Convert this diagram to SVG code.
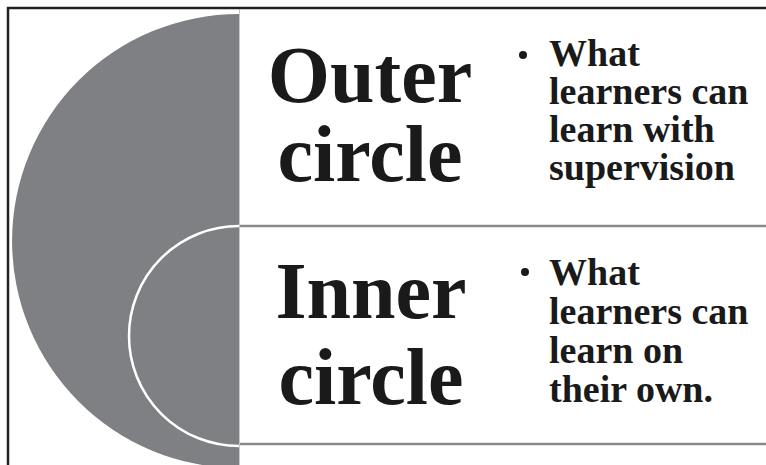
<svg xmlns="http://www.w3.org/2000/svg" width="766" height="465" viewBox="0 0 766 465">
<style>
.title{font-family:"Liberation Serif","Times New Roman",serif;font-weight:bold;font-size:80px;fill:#1a1a1a;text-anchor:middle}
.body{font-family:"Liberation Serif","Times New Roman",serif;font-weight:bold;font-size:38px;fill:#1a1a1a}
.sep{stroke:#8a8a8a;stroke-width:2.5;fill:none}
</style>
<rect width="766" height="465" fill="#ffffff"/>
<g id="shape-outer">
<path d="M239,14 A227,227 0 0 0 239,468 Z" fill="#7f8084"/>
</g>
<g id="shape-inner">
<path d="M239,226 A110,110 0 0 0 239,446" fill="none" stroke="#ffffff" stroke-width="2.5"/>
</g>
<g id="panel-outer">
<line class="sep" x1="239" y1="226" x2="766" y2="226"/>
<text class="title" x="370" y="102">Outer</text>
<text class="title" x="370" y="181">circle</text>
<circle cx="523" cy="55" r="4" fill="#1a1a1a"/>
<text class="body" x="549" y="66">What</text>
<text class="body" x="549" y="104">learners can</text>
<text class="body" x="549" y="142">learn with</text>
<text class="body" x="549" y="180">supervision</text>
</g>
<g id="panel-inner">
<line class="sep" x1="239" y1="444" x2="766" y2="444"/>
<text class="title" x="371" y="318">Inner</text>
<text class="title" x="371" y="404">circle</text>
<circle cx="525" cy="272" r="4" fill="#1a1a1a"/>
<text class="body" x="549" y="285">What</text>
<text class="body" x="549" y="324">learners can</text>
<text class="body" x="549" y="363">learn on</text>
<text class="body" x="549" y="402">their own.</text>
</g>
<line x1="239.5" y1="9" x2="239.5" y2="465" stroke="#c8c8c8" stroke-width="1"/>
<g id="frame">
<line x1="7" y1="8" x2="766" y2="8" stroke="#222" stroke-width="2.5"/>
<line x1="8" y1="7" x2="8" y2="465" stroke="#222" stroke-width="2.5"/>
</g>
</svg>
